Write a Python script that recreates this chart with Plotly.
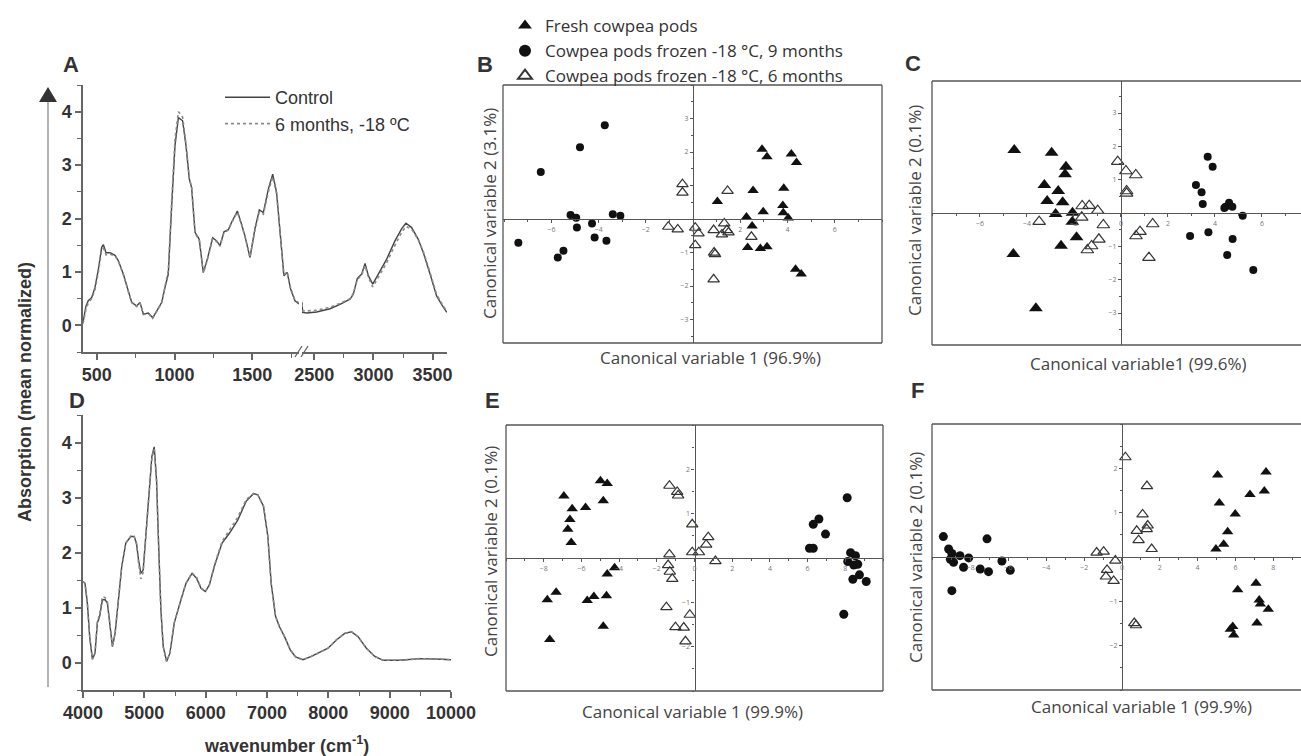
import plotly.graph_objects as go

# ---------------- data ----------------
# Panel A (mid-IR), segment 1 (412-1800 cm-1)
A_x1 = [412, 431, 446, 468, 489, 511, 532, 543, 560, 586, 618, 639, 671, 693, 725, 757, 778, 800, 832, 860,
        885, 918, 939, 960, 982, 1003, 1025, 1052, 1074, 1095, 1110, 1132, 1159, 1185, 1211, 1245, 1271, 1292,
        1318, 1346, 1367, 1404, 1431, 1453, 1485, 1517, 1545, 1571, 1603, 1631, 1656, 1678, 1703, 1724, 1746,
        1774, 1800]
A_ctrl_y1 = [0.05, 0.36, 0.46, 0.52, 0.71, 1.05, 1.46, 1.51, 1.36, 1.36, 1.31, 1.21, 0.96, 0.74, 0.43, 0.36,
             0.43, 0.21, 0.23, 0.14, 0.27, 0.43, 0.71, 0.96, 2.24, 3.36, 3.89, 3.83, 3.36, 2.74, 2.58, 1.74,
             1.61, 0.99, 1.24, 1.64, 1.58, 1.49, 1.75, 1.79, 1.93, 2.14, 1.89, 1.67, 1.27, 1.81, 2.16, 2.11,
             2.55, 2.83, 2.49, 1.74, 0.93, 0.99, 0.68, 0.46, 0.40]
A_frz_y1 = [0.03, 0.30, 0.42, 0.50, 0.66, 1.00, 1.40, 1.44, 1.32, 1.33, 1.30, 1.20, 0.95, 0.74, 0.42, 0.35,
            0.42, 0.20, 0.22, 0.13, 0.26, 0.42, 0.73, 1.02, 2.35, 3.48, 4.00, 3.90, 3.40, 2.76, 2.58, 1.72,
            1.60, 0.98, 1.22, 1.62, 1.57, 1.48, 1.74, 1.78, 1.92, 2.12, 1.88, 1.66, 1.27, 1.78, 2.12, 2.08,
            2.50, 2.78, 2.46, 1.74, 0.95, 1.00, 0.70, 0.47, 0.42]
# Panel A, segment 2 (2396-3622 cm-1)
A_x2 = [2396, 2402, 2436, 2520, 2633, 2717, 2802, 2830, 2864, 2901, 2929, 2957, 2994, 3041, 3112, 3182, 3239,
        3275, 3323, 3379, 3422, 3480, 3534, 3580, 3620]
A_ctrl_y2 = [0.43, 0.24, 0.23, 0.25, 0.31, 0.39, 0.49, 0.58, 0.88, 0.96, 1.16, 0.93, 0.77, 0.96, 1.24, 1.58,
             1.81, 1.91, 1.83, 1.61, 1.36, 0.95, 0.55, 0.38, 0.24]
A_frz_y2 = [0.40, 0.27, 0.27, 0.28, 0.34, 0.41, 0.50, 0.60, 0.86, 0.94, 1.12, 0.90, 0.72, 0.90, 1.17, 1.50,
            1.74, 1.85, 1.80, 1.60, 1.38, 0.98, 0.58, 0.40, 0.26]
A_xticks1 = [500, 1000, 1500]
A_xticks2 = [2500, 3000, 3500]

# Panel D (NIR)
D_x = [4000, 4033, 4071, 4109, 4153, 4196, 4234, 4272, 4316, 4360, 4398, 4441, 4480, 4523, 4578, 4632, 4698,
       4779, 4834, 4872, 4905, 4943, 4981, 5014, 5068, 5123, 5161, 5199, 5232, 5270, 5308, 5363, 5417, 5488,
       5597, 5679, 5777, 5853, 5924, 5995, 6060, 6142, 6267, 6387, 6523, 6659, 6779, 6850, 6943, 7014, 7068,
       7139, 7204, 7286, 7379, 7466, 7586, 7722, 7847, 7995, 8131, 8267, 8376, 8485, 8621, 8758, 8894, 9166,
       9493, 9711, 9850, 10000]
D_ctrl_y = [1.47, 1.44, 1.08, 0.47, 0.06, 0.17, 0.72, 0.84, 1.14, 1.14, 1.08, 0.65, 0.29, 0.53, 1.20, 1.75,
            2.17, 2.29, 2.29, 2.17, 1.87, 1.62, 1.68, 2.17, 3.02, 3.75, 3.92, 3.32, 2.17, 0.96, 0.29, 0.02,
            0.17, 0.72, 1.14, 1.44, 1.62, 1.53, 1.35, 1.29, 1.41, 1.75, 2.17, 2.35, 2.59, 2.93, 3.07, 3.05,
            2.84, 2.29, 1.44, 0.84, 0.65, 0.47, 0.23, 0.10, 0.05, 0.11, 0.18, 0.26, 0.41, 0.53, 0.56, 0.47,
            0.26, 0.11, 0.04, 0.04, 0.07, 0.07, 0.06, 0.05]
D_frz_y = [1.47, 1.44, 1.08, 0.47, 0.06, 0.17, 0.74, 0.88, 1.20, 1.18, 1.10, 0.65, 0.29, 0.53, 1.20, 1.75,
           2.17, 2.30, 2.30, 2.15, 1.82, 1.52, 1.64, 2.15, 3.00, 3.72, 3.88, 3.30, 2.17, 0.96, 0.29, 0.02,
           0.17, 0.72, 1.14, 1.44, 1.63, 1.55, 1.36, 1.29, 1.41, 1.77, 2.20, 2.40, 2.64, 2.96, 3.07, 3.05,
           2.84, 2.29, 1.44, 0.84, 0.65, 0.47, 0.23, 0.10, 0.05, 0.11, 0.18, 0.26, 0.41, 0.53, 0.56, 0.47,
           0.26, 0.11, 0.04, 0.04, 0.07, 0.07, 0.06, 0.05]
D_xticks = [4000, 5000, 6000, 7000, 8000, 9000, 10000]
D_xticktext = ["4000", "5000", "6000", "7000", "8000", "9000", "10000"]
spec_yticks = [0, 1, 2, 3, 4]

# Panel B (canonical variates)
B_fresh_x = [2.92, 3.13, 4.16, 4.38, 2.54, 3.84, 1.03, 3.80, 2.97, 3.82, 2.26, 4.03, 2.50, 2.31, 2.85, 3.13, 4.34, 4.58]
B_fresh_y = [2.08, 1.86, 1.94, 1.69, 0.85, 0.92, 0.52, 0.40, 0.22, 0.19, 0.06, 0.03, -0.21, -0.85, -0.88, -0.83, -1.50, -1.64]
B_9m_x = [-7.40, -6.45, -4.79, -3.74, -5.19, -4.95, -4.92, -4.28, -3.40, -3.08, -4.17, -3.67, -5.49, -5.73]
B_9m_y = [-0.71, 1.40, 2.14, 2.80, 0.12, 0.04, -0.25, -0.13, 0.14, 0.10, -0.55, -0.65, -0.95, -1.15]
B_6m_x = [-0.45, -0.45, 1.46, -1.05, -0.65, 0.09, 0.23, 0.09, 0.87, 1.32, 1.22, 1.43, 1.50, 2.47, 0.89, 0.93, 0.87]
B_6m_y = [1.04, 0.79, 0.84, -0.23, -0.31, -0.26, -0.43, -0.78, -0.33, -0.13, -0.46, -0.33, -0.40, -0.53, -1.00, -1.05, -1.80]

# Panel C
C_fresh_x = [-4.54, -2.95, -2.34, -2.38, -3.26, -2.67, -3.14, -2.48, -2.78, -2.06, -2.07, -1.89, -2.55, -4.58, -3.62]
C_fresh_y = [1.89, 1.81, 1.39, 1.16, 0.84, 0.66, 0.36, 0.32, -0.03, 0.01, -0.26, -0.73, -0.98, -1.23, -2.86]
C_9m_x = [3.69, 3.90, 3.19, 3.43, 3.48, 4.45, 4.60, 4.74, 5.18, 2.94, 3.72, 4.75, 4.52, 5.63, 4.40]
C_9m_y = [1.69, 1.39, 0.84, 0.62, 0.27, 0.19, 0.31, 0.19, -0.08, -0.69, -0.58, -0.78, -1.26, -1.71, 0.15]
C_6m_x = [-0.14, 0.21, 0.63, 0.24, 0.24, -1.65, -1.35, -0.99, -1.67, -3.48, -0.75, 1.35, 0.81, 0.64, -0.94, -1.25, -1.43, 1.19]
C_6m_y = [1.54, 1.26, 1.14, 0.66, 0.59, 0.21, 0.22, 0.07, -0.13, -0.26, -0.36, -0.33, -0.56, -0.69, -0.79, -0.99, -1.11, -1.34]

# Panel E
E_fresh_x = [-4.99, -4.63, -6.93, -4.84, -5.78, -6.49, -6.61, -6.72, -6.54, -4.24, -4.63, -7.34, -7.81, -5.69, -5.34, -4.67, -4.84, -7.68]
E_fresh_y = [1.74, 1.68, 1.40, 1.29, 1.14, 1.11, 0.87, 0.65, 0.35, -0.22, -0.36, -0.77, -0.94, -0.96, -0.87, -0.85, -1.54, -1.84]
E_9m_x = [8.10, 6.60, 6.30, 6.95, 6.10, 6.30, 8.28, 8.54, 8.13, 8.45, 8.66, 8.75, 8.40, 9.11, 7.92]
E_9m_y = [1.36, 0.88, 0.76, 0.54, 0.22, 0.22, 0.12, 0.05, -0.08, -0.16, -0.14, -0.38, -0.48, -0.53, -1.27]
E_6m_x = [-1.33, -0.92, -0.87, -0.12, 0.73, 0.62, -0.12, 0.23, -1.33, 1.11, -1.40, -1.31, -1.18, -1.49, -0.25, -1.01, -0.57, -0.48]
E_6m_y = [1.63, 1.49, 1.41, 0.76, 0.47, 0.30, 0.13, 0.13, 0.08, -0.07, -0.16, -0.31, -0.47, -1.11, -1.28, -1.56, -1.57, -1.88]

# Panel F
F_fresh_x = [5.06, 7.62, 7.53, 6.77, 5.15, 5.99, 5.59, 5.38, 4.97, 7.09, 6.12, 7.26, 7.32, 7.74, 7.14, 5.86, 5.73, 5.91]
F_fresh_y = [1.85, 1.92, 1.49, 1.41, 1.22, 0.97, 0.57, 0.29, 0.18, -0.59, -0.74, -0.97, -1.06, -1.18, -1.49, -1.57, -1.63, -1.76]
F_9m_x = [-9.45, -9.17, -9.00, -8.57, -9.08, -8.91, -8.11, -8.38, -7.50, -7.06, -7.14, -6.35, -5.91, -9.00]
F_9m_y = [0.46, 0.18, 0.08, 0.03, -0.05, -0.12, -0.02, -0.23, -0.27, -0.33, 0.41, -0.09, -0.30, -0.76]
F_6m_x = [0.18, 1.32, 1.09, 1.36, 1.31, 0.78, 0.88, 1.57, -1.34, -0.97, -0.35, -0.79, -0.85, -0.44, 0.65, 0.74]
F_6m_y = [2.25, 1.60, 0.96, 0.71, 0.63, 0.59, 0.38, 0.18, 0.10, 0.12, -0.08, -0.29, -0.44, -0.54, -1.49, -1.54]

names = ["Fresh cowpea pods", "Cowpea pods frozen -18 °C, 9 months", "Cowpea pods frozen -18 °C, 6 months"]
spec_names = ["Control", "6 months, -18 ºC"]

# ---------------- layout helpers ----------------
W, H = 1301, 756
def fx(px): return px / W
def fy(py): return 1 - py / H

ARIAL = "Liberation Sans, Arial, sans-serif"
OPEN = "Open Sans, sans-serif"
DARK = "#333333"

fig = go.Figure()

ctrl_line = dict(color="#444444", width=1.4)
frz_line = dict(color="#8a8a8a", width=1.6, dash="dot")

fig.add_trace(go.Scatter(x=A_x1, y=A_ctrl_y1, mode="lines", line=ctrl_line, name=spec_names[0],
                         xaxis="x", yaxis="y", legend="legend"))
fig.add_trace(go.Scatter(x=A_x1, y=A_frz_y1, mode="lines", line=frz_line, name=spec_names[1],
                         xaxis="x", yaxis="y", legend="legend"))
fig.add_trace(go.Scatter(x=A_x2, y=A_ctrl_y2, mode="lines", line=ctrl_line, showlegend=False,
                         xaxis="x2", yaxis="y"))
fig.add_trace(go.Scatter(x=A_x2, y=A_frz_y2, mode="lines", line=frz_line, showlegend=False,
                         xaxis="x2", yaxis="y"))
fig.add_trace(go.Scatter(x=D_x, y=D_ctrl_y, mode="lines", line=ctrl_line, showlegend=False,
                         xaxis="x3", yaxis="y3"))
fig.add_trace(go.Scatter(x=D_x, y=D_frz_y, mode="lines", line=frz_line, showlegend=False,
                         xaxis="x3", yaxis="y3"))

def add_scatter(ax, fresh, m9, m6, sizes, legend=False):
    xa, ya = "x%d" % ax, "y%d" % ax
    fig.add_trace(go.Scatter(x=fresh[0], y=fresh[1], mode="markers", name=names[0], xaxis=xa, yaxis=ya,
                             marker=dict(symbol="triangle-up", size=sizes[0], color="#111111"),
                             showlegend=legend, legend="legend2"))
    fig.add_trace(go.Scatter(x=m9[0], y=m9[1], mode="markers", name=names[1], xaxis=xa, yaxis=ya,
                             marker=dict(symbol="circle", size=sizes[1], color="#111111"),
                             showlegend=legend, legend="legend2"))
    fig.add_trace(go.Scatter(x=m6[0], y=m6[1], mode="markers", name=names[2], xaxis=xa, yaxis=ya,
                             marker=dict(symbol="triangle-up-open", size=sizes[2], color="#333333",
                                         line=dict(width=1.2, color="#333333")),
                             showlegend=legend, legend="legend2"))

add_scatter(4, (B_fresh_x, B_fresh_y), (B_9m_x, B_9m_y), (B_6m_x, B_6m_y), (10, 8, 10), legend=True)
add_scatter(5, (C_fresh_x, C_fresh_y), (C_9m_x, C_9m_y), (C_6m_x, C_6m_y), (12, 8, 11))
add_scatter(6, (E_fresh_x, E_fresh_y), (E_9m_x, E_9m_y), (E_6m_x, E_6m_y), (10, 9, 10))
add_scatter(7, (F_fresh_x, F_fresh_y), (F_9m_x, F_9m_y), (F_6m_x, F_6m_y), (10, 9, 10))

spec_axis = dict(showgrid=False, zeroline=False, showline=True, linecolor="#666666", linewidth=1.5,
                 ticks="outside", tickcolor="#666666", ticklen=6, tickwidth=1.5,
                 tickfont=dict(family=ARIAL, size=18, color=DARK, weight="bold"))
def minor(d):
    return dict(dtick=d, tick0=0, ticks="outside", ticklen=4, tickcolor="#666666", tickwidth=1.2)

layout = dict(
    width=W, height=H, margin=dict(l=0, r=0, t=0, b=0, autoexpand=False),
    paper_bgcolor="white", plot_bgcolor="rgba(0,0,0,0)",
    xaxis=dict(domain=[fx(83), fx(299)], range=[412, 1800], anchor="y", tickvals=A_xticks1,
               minor=minor(250), **spec_axis),
    xaxis2=dict(domain=[fx(302), fx(447)], range=[2396, 3622], anchor="y", tickvals=A_xticks2,
                minor=minor(250), **spec_axis),
    yaxis=dict(domain=[fy(352), fy(85)], range=[-0.5, 4.5], anchor="x", tickvals=spec_yticks,
               minor=minor(0.5), **spec_axis),
    xaxis3=dict(domain=[fx(83), fx(451)], range=[4000, 10000], anchor="y3", tickvals=D_xticks,
                ticktext=D_xticktext, minor=minor(500), **spec_axis),
    yaxis3=dict(domain=[fy(690), fy(415)], range=[-0.5, 4.5], anchor="x3", tickvals=spec_yticks,
                minor=minor(0.5), **spec_axis),
    legend=dict(x=fx(220), y=fy(79), xanchor="left", yanchor="top", bgcolor="rgba(0,0,0,0)",
                font=dict(family=ARIAL, size=18, color=DARK), itemwidth=45, tracegroupgap=0),
    legend2=dict(x=fx(505), y=fy(8), xanchor="left", yanchor="top", bgcolor="rgba(0,0,0,0)",
                 font=dict(family=OPEN, size=17, color=DARK), tracegroupgap=0, itemsizing="constant"),
    showlegend=True,
)

shapes = []
annotations = []

def sc_axes(i, xdom_px, ydom_px, xr, yr, xticks, yticks, xminor, yminor, frame_right=True):
    xd = [fx(xdom_px[0]), fx(xdom_px[1]) if xdom_px[1] < W else 1.0]
    yd = [fy(ydom_px[1]), fy(ydom_px[0])]
    xpos = xd[0] + (0 - xr[0]) / (xr[1] - xr[0]) * (xd[1] - xd[0])
    ypos = yd[0] + (0 - yr[0]) / (yr[1] - yr[0]) * (yd[1] - yd[0])
    common = dict(showgrid=False, zeroline=False, showline=True, linecolor="#555555", linewidth=1.2,
                  ticks="outside", ticklen=3, tickwidth=1, tickcolor="#555555",
                  tickfont=dict(family=OPEN, size=7, color="#777777"), anchor="free")
    layout["xaxis%d" % i] = dict(domain=xd, range=xr, position=ypos, side="bottom", tickvals=xticks,
                                 minor=dict(dtick=xminor, tick0=0, ticks="outside", ticklen=2,
                                            tickcolor="#555555"), **common)
    layout["yaxis%d" % i] = dict(domain=yd, range=yr, position=xpos, side="left", tickvals=yticks,
                                 minor=dict(dtick=yminor, tick0=0, ticks="outside", ticklen=2,
                                            tickcolor="#555555"), **common)
    ln = dict(color="#555555", width=1.3)
    xref, yref = "x%d domain" % i, "y%d domain" % i
    shapes.append(dict(type="line", xref=xref, yref=yref, x0=0, x1=0, y0=0, y1=1, line=ln))
    shapes.append(dict(type="line", xref=xref, yref=yref, x0=0, x1=1, y0=0, y1=0, line=ln))
    shapes.append(dict(type="line", xref=xref, yref=yref, x0=0, x1=1, y0=1, y1=1, line=ln))
    if frame_right:
        shapes.append(dict(type="line", xref=xref, yref=yref, x0=1, x1=1, y0=0, y1=1, line=ln))

sc_axes(4, (503, 882), (85, 343), [-8.05, 8.0], [-3.7, 4.0], [-6, -4, -2, 0, 2, 4, 6],
        [-3, -2, -1, 1, 2, 3], 1, 0.5)
sc_axes(5, (932, W), (81, 345), [-8.04, 7.66], [-3.96, 3.96], [-6, -4, -2, 0, 2, 4, 6],
        [-3, -2, -1, 1, 2, 3], 1, 0.5, frame_right=False)
sc_axes(6, (506, 883), (425, 691), [-10, 10], [-3, 3], [-8, -6, -4, -2, 0, 2, 4, 6, 8],
        [-2, -1, 1, 2], 1, 0.5)
sc_axes(7, (932, W), (424, 690), [-10.05, 9.47], [-3, 3], [-8, -6, -4, -2, 0, 2, 4, 6, 8],
        [-2, -1, 1, 2], 1, 0.5, frame_right=False)

# broken-axis marks on panel A
for x0 in (295, 301):
    shapes.append(dict(type="line", xref="paper", yref="paper", x0=fx(x0), y0=fy(357), x1=fx(x0 + 7),
                       y1=fy(346), line=dict(color="#666666", width=1.3)))
# long vertical arrow at left
shapes.append(dict(type="line", xref="paper", yref="paper", x0=fx(48), x1=fx(48), y0=fy(101), y1=fy(687),
                   line=dict(color="#9a9a9a", width=1.5)))
shapes.append(dict(type="path", xref="paper", yref="paper",
                   path="M %f %f L %f %f L %f %f Z" % (fx(48), fy(87), fx(39), fy(102), fx(57), fy(102)),
                   fillcolor="#333333", line=dict(width=0)))

def ann(text, px, py, size, family=ARIAL, bold=False, angle=0, color=DARK):
    annotations.append(dict(text=text, x=fx(px), y=fy(py), xref="paper", yref="paper", showarrow=False,
                            xanchor="center", yanchor="middle", textangle=angle,
                            font=dict(family=family, size=size, color=color,
                                      weight="bold" if bold else "normal")))

for lab, px, py in [("A", 71, 65), ("D", 77, 400), ("B", 485, 64), ("C", 913, 63), ("E", 492, 400),
                    ("F", 917, 390)]:
    ann(lab, px, py, 22, bold=True)

ann("Absorption (mean normalized)", 25, 392, 18, bold=True, angle=-90)
ann("wavenumber (cm<sup>-1</sup>)", 286, 744, 18, bold=True)

GR = "#444444"
ann("Canonical variable 2 (3.1%)", 490, 214, 17, family=OPEN, angle=-90, color=GR)
ann("Canonical variable 1 (96.9%)", 710, 358, 17, family=OPEN, color=GR)
ann("Canonical variable 2 (0.1%)", 915, 211, 17, family=OPEN, angle=-90, color=GR)
ann("Canonical variable1 (99.6%)", 1138, 363, 17, family=OPEN, color=GR)
ann("Canonical variable 2 (0.1%)", 490, 552, 17, family=OPEN, angle=-90, color=GR)
ann("Canonical variable 1 (99.9%)", 692, 711, 17, family=OPEN, color=GR)
ann("Canonical variable 2 (0.1%)", 915, 558, 17, family=OPEN, angle=-90, color=GR)
ann("Canonical variable 1 (99.9%)", 1141, 706, 17, family=OPEN, color=GR)

layout["shapes"] = shapes
layout["annotations"] = annotations
fig.update_layout(**layout)

fig.write_html("out.html", config={"displayModeBar": False},
               post_script="document.body.style.margin='0';document.body.style.overflow='hidden';")
